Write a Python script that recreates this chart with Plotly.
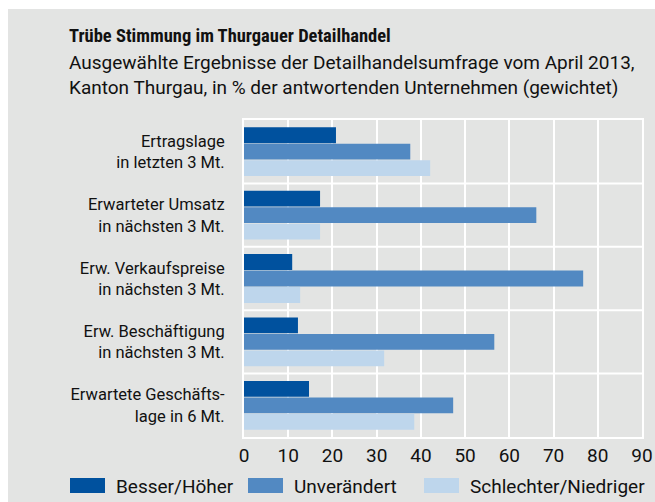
import plotly.graph_objects as go

categories = [
    "Ertragslage<br>in letzten 3 Mt.",
    "Erwarteter Umsatz<br>in nächsten 3 Mt.",
    "Erw. Verkaufspreise<br>in nächsten 3 Mt.",
    "Erw. Beschäftigung<br>in nächsten 3 Mt.",
    "Erwartete Geschäfts-<br>lage in 6 Mt.",
]
series_names = ["Besser/Höher", "Unverändert", "Schlechter/Niedriger"]
besser = [20.8, 17.2, 10.9, 12.2, 14.7]
unveraendert = [37.6, 66.1, 76.7, 56.6, 47.3]
schlechter = [42.1, 17.2, 12.7, 31.7, 38.5]
x_ticks = [0, 10, 20, 30, 40, 50, 60, 70, 80, 90]

title = "Trübe Stimmung im Thurgauer Detailhandel"
subtitle1 = "Ausgewählte Ergebnisse der Detailhandelsumfrage vom April 2013,"
subtitle2 = "Kanton Thurgau, in % der antwortenden Unternehmen (gewichtet)"

colors = ["#00519e", "#5289c2", "#bed6ec"]
BG = "#e3e4e3"
FONT = "Roboto, Liberation Sans, sans-serif"
TITLE_FONT = "Liberation Sans Narrow, Roboto Condensed, Arial Narrow, sans-serif"

W, H = 655, 502
L, T = 244, 120
PW, PH = 398, 317
R = W - L - PW
B = H - T - PH


def px(xp):
    return (xp - L) / PW


def py(yp):
    return (T + PH - yp) / PH


fig = go.Figure()
for name, vals, col in zip(series_names, [besser, unveraendert, schlechter], colors):
    fig.add_trace(go.Bar(
        y=list(range(len(categories))), x=vals, name=name, orientation="h",
        marker=dict(color=col, line=dict(width=0)), showlegend=False,
        hoverinfo="x+name",
    ))

shapes = [
    # white outer frame on the top and left, as in the reference
    dict(type="rect", xref="paper", yref="paper", x0=px(-2), x1=px(8), y0=py(H + 2), y1=py(-2),
         fillcolor="white", line=dict(width=0), layer="below"),
    dict(type="rect", xref="paper", yref="paper", x0=px(-2), x1=px(W + 2), y0=py(9), y1=py(-2),
         fillcolor="white", line=dict(width=0), layer="below"),
]
for i in range(len(categories) - 1):
    shapes.append(dict(type="line", xref="paper", yref="y", x0=0, x1=1, y0=i + 0.5, y1=i + 0.5,
                       line=dict(color="white", width=2), layer="below"))

annotations = [
    dict(text="<b>" + title + "</b>", x=px(67), y=py(36), xref="paper", yref="paper",
         xanchor="left", yanchor="middle", showarrow=False,
         font=dict(family=TITLE_FONT, size=18.5, color="#111")),
    dict(text=subtitle1, x=px(67), y=py(62), xref="paper", yref="paper",
         xanchor="left", yanchor="middle", showarrow=False, font=dict(size=19, color="#111")),
    dict(text=subtitle2, x=px(67), y=py(87), xref="paper", yref="paper",
         xanchor="left", yanchor="middle", showarrow=False, font=dict(size=19, color="#111")),
]

# legend drawn manually (larger swatches than Plotly's legend allows)
leg_x = [70, 248, 424]
for name, col, lx in zip(series_names, colors, leg_x):
    shapes.append(dict(type="rect", xref="paper", yref="paper", x0=px(lx), x1=px(lx + 35),
                       y0=py(493), y1=py(478), fillcolor=col, line=dict(width=0)))
    annotations.append(dict(text=name, x=px(lx + 44), y=py(486), xref="paper", yref="paper",
                            xanchor="left", yanchor="middle", showarrow=False,
                            font=dict(size=19, color="#111")))

fig.update_layout(
    width=W, height=H,
    margin=dict(l=L, r=R, t=T, b=B, pad=0, autoexpand=False),
    paper_bgcolor=BG, plot_bgcolor=BG,
    barmode="group", bargap=0.22, bargroupgap=0.04,
    font=dict(family=FONT, size=16, color="#111"),
    shapes=shapes, annotations=annotations,
    xaxis=dict(range=[0, 90], tickvals=x_ticks, showgrid=True, gridcolor="white", gridwidth=2,
               zeroline=False, showline=True, linecolor="white", linewidth=2, mirror=True,
               ticks="", ticklen=0, tickfont=dict(size=19), ticklabelstandoff=0,
               automargin=False, fixedrange=True),
    yaxis=dict(tickvals=list(range(len(categories))), ticktext=categories,
               range=[len(categories) - 0.5, -0.5], showgrid=False, zeroline=False,
               showline=True, linecolor="white", linewidth=2, mirror=True,
               ticks="", ticklen=0, tickfont=dict(size=16.5), ticklabelstandoff=14,
               automargin=False, fixedrange=True),
)

fig.write_html(
    "out.html",
    config={"displayModeBar": False},
    post_script="document.body.style.margin='0';document.body.style.overflow='hidden';",
)
